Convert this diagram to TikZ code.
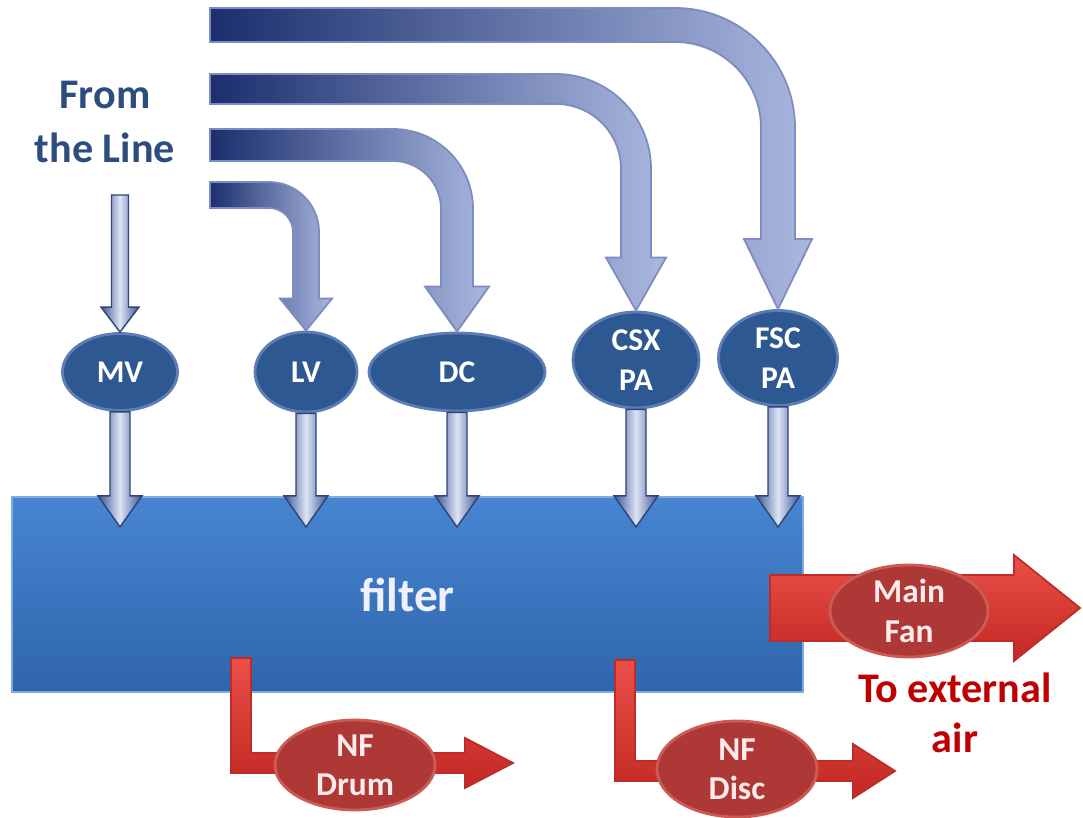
\documentclass[tikz,border=0pt]{standalone}
\usepackage{fontspec}
\setmainfont{Carlito}
\usetikzlibrary{shapes.geometric,calc}

\definecolor{navy}{HTML}{1B2F6E}
\definecolor{lavender}{HTML}{AAB7DF}
\definecolor{baredge}{HTML}{7C8CC0}
\definecolor{dropdark}{HTML}{3B5596}
\definecolor{droplight}{HTML}{DCE3F4}
\definecolor{unitblue}{HTML}{2E5892}
\definecolor{unitrim}{HTML}{5C7EB4}
\definecolor{filtertop}{HTML}{4785D1}
\definecolor{filterbot}{HTML}{2F65AC}
\definecolor{redlight}{HTML}{EA5048}
\definecolor{reddark}{HTML}{BC2C28}
\definecolor{fanred}{HTML}{AE3835}
\definecolor{fanrim}{HTML}{CC5A55}
\definecolor{linetext}{HTML}{2C4D7E}
\definecolor{airtext}{HTML}{C00000}

\tikzset{
	unit/.style = {draw = unitrim,
				   line width = 0.8pt,
				   shape = ellipse,
				   fill = unitblue,
				   inner sep = 0pt,
				   text = white,
				   align = center,
				   font = \fontsize{9}{11.4}\selectfont\bfseries},
	fan/.style = {unit,
				  draw = fanrim,
				  fill = fanred,
				  text = white!92!red,
				  font = \fontsize{9.5}{11.2}\selectfont\bfseries},
	filterbox/.style = {draw = filtertop!70!white,
						line width = 0.6pt,
						top color = filtertop,
						bottom color = filterbot,
						minimum width = 7.91cm,
						minimum height = 1.95cm,
						inner sep = 0pt,
						text = white!94!blue,
						font = \fontsize{13.5}{16}\selectfont\bfseries},
	feedbar/.style = {draw = baredge,
					  line width = 0.5pt,
					  left color = navy,
					  right color = lavender},
	dropbar/.style = {draw = dropdark!80!black,
					  line width = 0.4pt,
					  left color = dropdark,
					  right color = dropdark,
					  middle color = droplight},
	exhaust/.style = {draw = reddark,
					  line width = 0.5pt,
					  top color = redlight,
					  bottom color = reddark!90!red}
}

% bent feed from the line: target, bar top, width, outer radius, head length
\newcommand{\feedline}[5]{%
	\path[feedbar] let \p1 = (#1.north) in
		(2.10cm,#2cm) -- ({\x1+#3cm/2-#4cm},#2cm)
		arc[start angle = 90, end angle = 0, radius = #4cm]
		-- ({\x1+#3cm/2},{\y1+#5cm}) -- ({\x1+#3cm},{\y1+#5cm})
		-- (\x1,\y1)
		-- ({\x1-#3cm},{\y1+#5cm}) -- ({\x1-#3cm/2},{\y1+#5cm})
		-- ({\x1-#3cm/2},{#2cm-#4cm})
		arc[start angle = 0, end angle = 90, radius = #4cm-#3cm]
		-- (2.10cm,{#2cm-#3cm}) -- cycle;
}

% short drop into the filter
\newcommand{\dropline}[2]{%
	\path[dropbar] let \p1 = (#1.south), \p2 = (#2.north) in
		({\x1-0.10cm},\y1) -- ({\x1+0.10cm},\y1)
		-- ({\x1+0.10cm},\y2) -- ({\x1+0.22cm},\y2)
		-- (\x1,{\y2-0.31cm})
		-- ({\x1-0.22cm},\y2) -- ({\x1-0.10cm},\y2) -- cycle;
}

% L shaped exhaust: start, end, half width, head half width, head length
\newcommand{\ventline}[5]{%
	\path[exhaust] let \p1 = (#1), \p2 = (#2) in
		({\x1-#3cm},\y1) -- ({\x1+#3cm},\y1) -- ({\x1+#3cm},{\y2+#3cm})
		-- ({\x2-#5cm},{\y2+#3cm}) -- ({\x2-#5cm},{\y2+#4cm})
		-- (\x2,\y2)
		-- ({\x2-#5cm},{\y2-#4cm}) -- ({\x2-#5cm},{\y2-#3cm})
		-- ({\x1-#3cm},{\y2-#3cm}) -- cycle;
}

\begin{document}
\begin{tikzpicture}

	\useasboundingbox (0,0) rectangle (10.83,-8.18);

	\draw (4.075,-5.945) node[filterbox] (filter) {filter};

	\coordinate (fanin) at (7.70,-6.08);
	\coordinate (fanout) at (10.80,-6.08);
	\path[exhaust] let \p1 = (fanin), \p2 = (fanout) in
		(\x1,{\y1+0.33cm}) -- ({\x2-0.66cm},{\y1+0.33cm})
		-- ({\x2-0.66cm},{\y1+0.53cm}) -- (\x2,\y1)
		-- ({\x2-0.66cm},{\y1-0.53cm}) -- ({\x2-0.66cm},{\y1-0.33cm})
		-- (\x1,{\y1-0.33cm}) -- cycle;

	\coordinate (drumin) at (2.41,-6.58);
	\coordinate (drumout) at (5.13,-7.63);
	\ventline{drumin}{drumout}{0.10}{0.25}{0.48}

	\coordinate (discin) at (6.25,-6.60);
	\coordinate (discout) at (8.95,-7.71);
	\ventline{discin}{discout}{0.10}{0.27}{0.42}

	\draw (1.20,-3.72) node[unit,
					 minimum width = 1.15cm,
					 minimum height = 0.77cm] (MV) {MV};

	\draw (3.06,-3.72) node[unit,
					 minimum width = 1.02cm,
					 minimum height = 0.80cm] (LV) {LV};

	\draw (4.57,-3.72) node[unit,
					 minimum width = 1.76cm,
					 minimum height = 0.78cm] (DC) {DC};

	\draw (6.36,-3.60) node[unit,
					 minimum width = 1.26cm,
					 minimum height = 0.96cm] (CSX) {CSX\\PA};

	\draw (7.78,-3.58) node[unit,
					 minimum width = 1.19cm,
					 minimum height = 0.95cm] (FSC) {FSC\\PA};

	\draw (9.09,-6.11) node[fan,
					 minimum width = 1.58cm,
					 minimum height = 0.92cm] (mainfan) {Main\\Fan};

	\draw (3.55,-7.65) node[fan,
					 minimum width = 1.60cm,
					 minimum height = 0.90cm] (nfdrum) {NF\\Drum};

	\draw (7.37,-7.69) node[fan,
					 minimum width = 1.60cm,
					 minimum height = 0.96cm] (nfdisc) {NF\\Disc};

	\draw (1.05,-1.22) node[text = linetext,
					 align = center,
					 font = \fontsize{12}{15.6}\selectfont\bfseries] (line) {From\\the Line};

	\draw (9.55,-7.13) node[text = airtext,
					 align = center,
					 font = \fontsize{12}{14.2}\selectfont\bfseries] (outside) {To external\\air};

	\feedline{FSC}{-0.08}{0.34}{1.20}{0.70}
	\feedline{CSX}{-0.74}{0.30}{0.95}{0.53}
	\feedline{DC}{-1.29}{0.32}{0.80}{0.45}
	\feedline{LV}{-1.82}{0.26}{0.50}{0.32}

	\coordinate (MVin) at (1.20,-1.95);
	\path[dropbar] let \p1 = (MVin), \p2 = (MV.north) in
		({\x2-0.085cm},\y1) -- ({\x2+0.085cm},\y1)
		-- ({\x2+0.085cm},{\y2+0.25cm}) -- ({\x2+0.19cm},{\y2+0.25cm})
		-- (\x2,\y2)
		-- ({\x2-0.19cm},{\y2+0.25cm}) -- ({\x2-0.085cm},{\y2+0.25cm}) -- cycle;

	\dropline{MV}{filter}
	\dropline{LV}{filter}
	\dropline{DC}{filter}
	\dropline{CSX}{filter}
	\dropline{FSC}{filter}
\end{tikzpicture}
\end{document}
